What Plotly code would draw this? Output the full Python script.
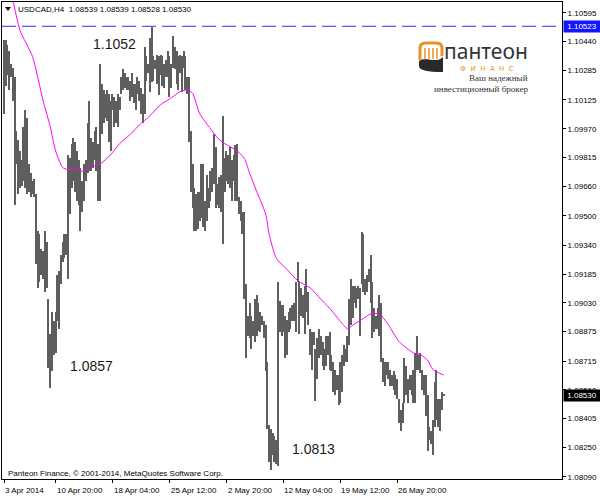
import plotly.graph_objects as go
import numpy as np

# ---------------- data ----------------
highs = [
    1.1045, 1.1045, 1.1042, 1.1039, 1.1032, 1.1030, 1.1025, 1.0996, 1.0991, 1.0985,
    1.0980, 1.0998, 1.1007, 1.1003, 1.0978, 1.0973, 1.0969, 1.0970, 1.0962, 1.0942,
    1.0940, 1.0932, 1.0931, 1.0942, 1.0936, 1.0905, 1.0886, 1.0898, 1.0893, 1.0898,
    1.0918, 1.0920, 1.0929, 1.0936, 1.0940, 1.0940, 1.0983, 1.0981, 1.0989, 1.0992,
    1.0990, 1.0985, 1.0980, 1.0976, 1.0969, 1.0978, 1.0980, 1.1000, 1.1012, 1.0992,
    1.0990, 1.0996, 1.0998, 1.0989, 1.1032, 1.1021, 1.1018, 1.1016, 1.1018, 1.1016,
    1.1012, 1.1016, 1.1014, 1.1012, 1.1016, 1.1014, 1.1025, 1.1029, 1.1027, 1.1025,
    1.1025, 1.1023, 1.1027, 1.1021, 1.1021, 1.1025, 1.1023, 1.1019, 1.1016, 1.1041,
    1.1036, 1.1032, 1.1046, 1.1052, 1.1036, 1.1034, 1.1037, 1.1036, 1.1037, 1.1036,
    1.1032, 1.1034, 1.1039, 1.1036, 1.1032, 1.1047, 1.1041, 1.1039, 1.1036, 1.1037,
    1.1036, 1.1039, 1.1036, 1.1025, 1.1025, 1.0996, 1.0978, 1.0965, 1.0962, 1.0963,
    1.0963, 1.0978, 1.0978, 1.0958, 1.0972, 1.0965, 1.0974, 1.0976, 1.0994, 1.0987,
    1.0967, 1.0971, 1.0972, 1.1004, 1.0981, 1.0985, 1.0983, 1.0987, 1.0980, 1.0983,
    1.0988, 1.0989, 1.0960, 1.0958, 1.0952, 1.0952, 1.0913, 1.0896, 1.0903, 1.0896,
    1.0893, 1.0905, 1.0907, 1.0903, 1.0898, 1.0896, 1.0893, 1.0891, 1.0871, 1.0837,
    1.0835, 1.0833, 1.0831, 1.0829, 1.0914, 1.0904, 1.0902, 1.0902, 1.0896, 1.0894,
    1.0898, 1.0900, 1.0902, 1.0903, 1.0914, 1.0925, 1.0914, 1.0911, 1.0907, 1.0912,
    1.0921, 1.0909, 1.0889, 1.0887, 1.0887, 1.0878, 1.0884, 1.0889, 1.0885, 1.0882,
    1.0878, 1.0885, 1.0885, 1.0887, 1.0875, 1.0871, 1.0867, 1.0864, 1.0864, 1.0871,
    1.0875, 1.0880, 1.0878, 1.0885, 1.0905, 1.0916, 1.0912, 1.0912, 1.0911, 1.0912,
    1.0911, 1.0941, 1.0940, 1.0916, 1.0918, 1.0921, 1.0929, 1.0914, 1.0900, 1.0896,
    1.0900, 1.0907, 1.0903, 1.0873, 1.0871, 1.0871, 1.0871, 1.0867, 1.0864, 1.0866,
    1.0864, 1.0862, 1.0851, 1.0845, 1.0849, 1.0873, 1.0869, 1.0862, 1.0864, 1.0864,
    1.0867, 1.0876, 1.0885, 1.0875, 1.0876, 1.0867, 1.0864, 1.0864, 1.0853, 1.0836,
    1.0834, 1.0840, 1.0860, 1.0867, 1.0851, 1.0851, 1.0855, 1.0854,
]
lows = [
    1.1005, 1.1020, 1.1026, 1.1018, 1.1025, 1.1012, 1.0956, 1.0978, 1.0962, 1.0965,
    1.0966, 1.0969, 1.0965, 1.0962, 1.0963, 1.0960, 1.0962, 1.0960, 1.0924, 1.0911,
    1.0914, 1.0918, 1.0916, 1.0909, 1.0911, 1.0868, 1.0857, 1.0866, 1.0875, 1.0876,
    1.0893, 1.0889, 1.0913, 1.0925, 1.0927, 1.0929, 1.0916, 1.0951, 1.0965, 1.0969,
    1.0963, 1.0958, 1.0956, 1.0942, 1.0952, 1.0958, 1.0969, 1.0973, 1.0974, 1.0974,
    1.0976, 1.0980, 1.0974, 1.0958, 1.0958, 1.0994, 1.1000, 1.1003, 1.1001, 1.0990,
    1.0985, 1.1007, 1.0998, 1.1000, 1.0998, 1.1007, 1.1016, 1.1018, 1.1019, 1.1018,
    1.1018, 1.1012, 1.1014, 1.1011, 1.1007, 1.1016, 1.1012, 1.1005, 1.1000, 1.1005,
    1.1023, 1.1027, 1.1017, 1.1022, 1.1023, 1.1029, 1.1021, 1.1015, 1.1026, 1.1020,
    1.1019, 1.1025, 1.1025, 1.1014, 1.1019, 1.1030, 1.1029, 1.1021, 1.1018, 1.1027,
    1.1017, 1.1030, 1.1018, 1.1016, 1.0990, 1.0963, 1.0954, 1.0942, 1.0942, 1.0943,
    1.0947, 1.0949, 1.0944, 1.0942, 1.0947, 1.0954, 1.0958, 1.0963, 1.0967, 1.0954,
    1.0956, 1.0954, 1.0952, 1.0935, 1.0963, 1.0969, 1.0967, 1.0965, 1.0958, 1.0969,
    1.0958, 1.0958, 1.0951, 1.0947, 1.0940, 1.0905, 1.0873, 1.0885, 1.0884, 1.0878,
    1.0885, 1.0882, 1.0885, 1.0888, 1.0887, 1.0891, 1.0884, 1.0866, 1.0835, 1.0817,
    1.0813, 1.0821, 1.0817, 1.0816, 1.0815, 1.0887, 1.0885, 1.0887, 1.0873, 1.0875,
    1.0887, 1.0889, 1.0893, 1.0893, 1.0887, 1.0914, 1.0886, 1.0896, 1.0895, 1.0886,
    1.0898, 1.0891, 1.0875, 1.0867, 1.0880, 1.0850, 1.0862, 1.0873, 1.0875, 1.0869,
    1.0867, 1.0869, 1.0875, 1.0867, 1.0866, 1.0855, 1.0853, 1.0856, 1.0848, 1.0849,
    1.0855, 1.0869, 1.0871, 1.0871, 1.0880, 1.0891, 1.0895, 1.0903, 1.0900, 1.0905,
    1.0885, 1.0913, 1.0909, 1.0907, 1.0909, 1.0914, 1.0903, 1.0884, 1.0887, 1.0889,
    1.0889, 1.0885, 1.0871, 1.0860, 1.0858, 1.0864, 1.0862, 1.0858, 1.0858, 1.0856,
    1.0853, 1.0851, 1.0838, 1.0834, 1.0838, 1.0849, 1.0853, 1.0849, 1.0856, 1.0853,
    1.0849, 1.0849, 1.0867, 1.0867, 1.0865, 1.0856, 1.0853, 1.0842, 1.0823, 1.0829,
    1.0827, 1.0821, 1.0836, 1.0840, 1.0836, 1.0834, 1.0845, 1.0853,
]

# moving average (magenta) read at selected bars
ma_index = [0, 5, 9, 16, 22, 26, 29, 33, 36, 40, 44, 48, 54, 60, 65, 71, 76, 82, 88, 93,
            99, 103, 106, 110, 116, 120, 124, 131, 135, 138, 142, 147, 149, 153, 159, 165,
            172, 178, 183, 189, 193, 196, 201, 206, 211, 216, 222, 230, 234, 238, 241, 247]
ma_values = [1.1083, 1.1066, 1.1050, 1.1036, 1.1012, 1.0998, 1.0985, 1.0976, 1.0975, 1.0976,
             1.0974, 1.0976, 1.0978, 1.0983, 1.0989, 1.0994, 1.0999, 1.1004, 1.1010, 1.1013,
             1.1017, 1.1018, 1.1016, 1.1005, 1.0997, 1.0992, 1.0989, 1.0985, 1.0981, 1.0973,
             1.0963, 1.0951, 1.0940, 1.0927, 1.0921, 1.0915, 1.0911, 1.0905, 1.0900, 1.0893,
             1.0889, 1.0891, 1.0894, 1.0897, 1.0897, 1.0891, 1.0882, 1.0876, 1.0875, 1.0872,
             1.0867, 1.0864]

price_ticks = [1.10595, 1.10440, 1.10285, 1.10125, 1.09970, 1.09815, 1.09660, 1.09500,
               1.09340, 1.09185, 1.09030, 1.08875, 1.08715, 1.08560, 1.08405, 1.08250, 1.08090]
date_ticks = [0, 29, 61, 93, 125, 157, 189, 221]
date_labels = ["3 Apr 2014", "10 Apr 20:00", "18 Apr 04:00", "25 Apr 12:00",
               "2 May 20:00", "12 May 04:00", "19 May 12:00", "26 May 20:00"]
symbol = "USDCAD,H4"
last_ohlc = [1.08539, 1.08539, 1.08528, 1.08530]
level_price = 1.10523
extreme_texts = ["1.1052", "1.0857", "1.0813"]

# ---------------- layout geometry ----------------
FW, FH = 600, 496
ML, MR, MT, MB = 2, 38, 2, 17
PW, PH = FW - ML - MR, FH - MT - MB


def pxx(x):
    return (x - ML) / PW


def pxy(y):
    return (FH - MB - y) / PH


FONT = "Liberation Sans"
n = len(highs)
idx = np.arange(n)
hi = np.array(highs)
lo = np.array(lows)

fig = go.Figure()
fig.add_trace(go.Bar(
    x=idx, y=hi - lo, base=lo, width=0.7,
    marker=dict(color="#5e5e5e", line=dict(width=0)),
    hoverinfo="skip", showlegend=False,
))
fig.add_trace(go.Scatter(
    x=ma_index, y=ma_values, mode="lines",
    line=dict(color="#ff00ff", width=1, shape="spline", smoothing=0.6),
    hoverinfo="skip", showlegend=False,
))

shapes = [
    dict(type="line", xref="paper", yref="y", x0=0, x1=1, y0=level_price, y1=level_price,
         line=dict(color="#2b2bff", width=1, dash="14px,6px")),
    # header triangle
    dict(type="path", xref="paper", yref="paper",
         path="M %f,%f L %f,%f L %f,%f Z" % (pxx(5), pxy(7), pxx(11), pxy(7), pxx(8), pxy(11)),
         fillcolor="black", line=dict(width=0)),
]

# logo icon (orange arch with columns, dark swoosh)
orange = "#e8922a"
shapes.append(dict(type="path", xref="paper", yref="paper",
                   path="M %f,%f L %f,%f Q %f,%f %f,%f L %f,%f Q %f,%f %f,%f L %f,%f" % (
                       pxx(420), pxy(60), pxx(420), pxy(48), pxx(420), pxy(43), pxx(426), pxy(43),
                       pxx(436), pxy(43), pxx(442), pxy(43), pxx(442), pxy(48), pxx(442), pxy(56)),
                   line=dict(color=orange, width=3)))
for cx in [425, 429, 433, 437]:
    shapes.append(dict(type="line", xref="paper", yref="paper",
                       x0=pxx(cx), x1=pxx(cx), y0=pxy(48), y1=pxy(59),
                       line=dict(color=orange, width=1.5)))
shapes.append(dict(type="path", xref="paper", yref="paper",
                   path="M %f,%f L %f,%f C %f,%f %f,%f %f,%f L %f,%f Q %f,%f %f,%f Z" % (
                       pxx(419), pxy(66), pxx(419), pxy(61), pxx(426), pxy(56), pxx(436), pxy(64),
                       pxx(443), pxy(57), pxx(443), pxy(72), pxx(419), pxy(72), pxx(419), pxy(66)),
                   fillcolor="#2a2a2a", line=dict(width=0)))

annotations = []
# header
annotations.append(dict(xref="paper", yref="paper", x=pxx(16), y=pxy(9.5), xanchor="left",
                        yanchor="middle", showarrow=False,
                        text="%s  %s" % (symbol, " ".join("%.5f" % v for v in last_ohlc)),
                        font=dict(family=FONT, size=8, color="black")))
# copyright
annotations.append(dict(xref="paper", yref="paper", x=pxx(6), y=pxy(473), xanchor="left",
                        yanchor="middle", showarrow=False,
                        text="Panteon Finance, © 2001-2014, MetaQuotes Software Corp.",
                        font=dict(family=FONT, size=8, color="black")))
# extreme labels
for t, (x, y) in zip(extreme_texts, [(91, 44), (68, 366), (290, 449)]):
    annotations.append(dict(xref="paper", yref="paper", x=pxx(x), y=pxy(y), xanchor="left",
                            yanchor="middle", showarrow=False, text=t,
                            font=dict(family=FONT, size=14, color="#1a1a1a")))
# date labels
for v, t in zip(date_ticks, date_labels):
    annotations.append(dict(xref="x", yref="paper", x=v, y=0, xanchor="left", yanchor="top",
                            yshift=-5, xshift=-1, showarrow=False, text=t,
                            font=dict(family=FONT, size=8, color="black")))
# price boxes on the axis
annotations.append(dict(xref="paper", yref="y", x=1, y=level_price, xanchor="left",
                        yanchor="middle", xshift=1, showarrow=False, text="%.5f" % level_price,
                        bgcolor="#1414ff", borderpad=1, width=34,
                        font=dict(family=FONT, size=8, color="white")))
annotations.append(dict(xref="paper", yref="y", x=1, y=last_ohlc[3], xanchor="left",
                        yanchor="middle", xshift=1, showarrow=False, text="%.5f" % last_ohlc[3],
                        bgcolor="black", borderpad=1, width=34,
                        font=dict(family=FONT, size=8, color="white")))
# logo texts
annotations.append(dict(xref="paper", yref="paper", x=pxx(486), y=pxy(51), xanchor="center",
                        yanchor="middle", showarrow=False, text="пантеон", borderpad=0,
                        font=dict(family="Noto Sans", size=21, color="#333333")))
annotations.append(dict(xref="paper", yref="paper", x=pxx(487), y=pxy(69.5), xanchor="center",
                        yanchor="middle", showarrow=False, text="Ф  И  Н  А  Н  С", borderpad=0,
                        font=dict(family="DejaVu Sans", size=7, color=orange)))
annotations.append(dict(xref="paper", yref="paper", x=pxx(529), y=pxy(78.5), xanchor="right",
                        yanchor="middle", showarrow=False, text="Ваш надежный", borderpad=0,
                        font=dict(family="Liberation Serif", size=9, color="#333333")))
annotations.append(dict(xref="paper", yref="paper", x=pxx(529), y=pxy(88.5), xanchor="right",
                        yanchor="middle", showarrow=False, text="инвестиционный брокер",
                        borderpad=0,
                        font=dict(family="Liberation Serif", size=9, color="#333333")))

fig.update_layout(
    width=FW, height=FH,
    margin=dict(l=ML, r=MR, t=MT, b=MB, pad=0),
    paper_bgcolor="white", plot_bgcolor="white",
    bargap=0, showlegend=False,
    shapes=shapes, annotations=annotations,
    xaxis=dict(range=[-1.124, 313.48], tickvals=date_ticks, ticktext=[""] * len(date_ticks),
               ticks="outside", ticklen=3, tickcolor="black", showgrid=False, zeroline=False,
               showline=True, mirror=True, linecolor="black", linewidth=1, fixedrange=True),
    yaxis=dict(range=[1.08079, 1.10654], side="right", tickvals=price_ticks,
               ticktext=["%.5f" % v for v in price_ticks], ticks="outside", ticklen=3,
               tickcolor="black", tickfont=dict(family=FONT, size=8, color="black"),
               showgrid=False, zeroline=False, showline=True, mirror=True,
               linecolor="black", linewidth=1, fixedrange=True),
)

fig.write_html("out.html", config={"displayModeBar": False},
               post_script="document.body.style.margin='0px';document.body.style.padding='0px';")
